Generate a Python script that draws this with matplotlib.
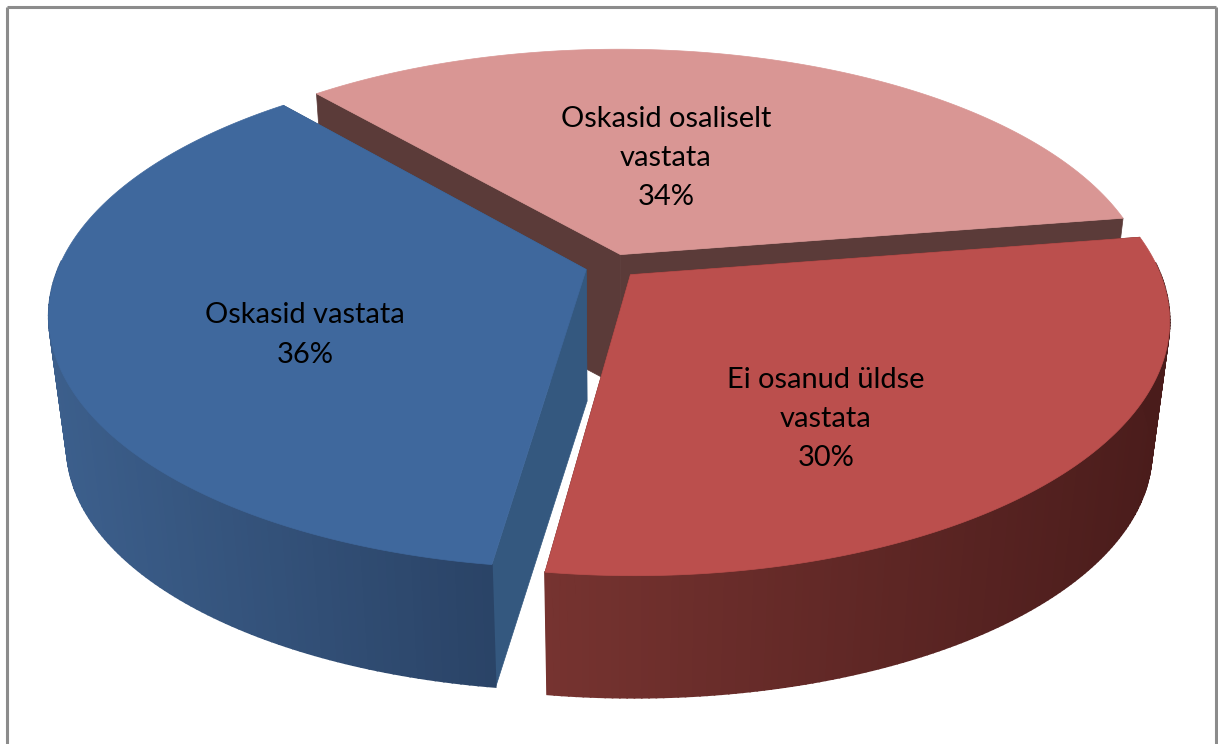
import numpy as np
import matplotlib
matplotlib.use("Agg")
import matplotlib.pyplot as plt
from matplotlib.colors import to_rgb

labels = ["Oskasid vastata", "Oskasid osaliselt\nvastata", "Ei osanud üldse\nvastata"]
values = [36.4, 33.9, 29.7]

top_colors = ["#3f689d", "#d99694", "#bb4f4d"]
cut_colors = ["#34587f", "#5b3b39", "#5b2422"]
wall_left = ["#3c5f8c", "#5b3b39", "#763330"]
wall_right = ["#2a4366", "#5b3b39", "#4a1c1b"]

start_angle = 262
explode = 0.05
center_x, center_y = 611.5, 266
scale_x, scale_y = 527, 245
persp = 0.175
bottom_scale, bottom_drop = 0.968, 132

label_pos = [(305, 335), (666, 158), (826, 419)]


def project(gx, gy, bottom=False):
    w = 1 + persp * gy
    sx = scale_x * gx / w
    sy = scale_y * gy / w
    if bottom:
        return center_x + bottom_scale * sx, center_y - bottom_scale * sy + bottom_drop
    return center_x + sx, center_y - sy


fig = plt.figure(figsize=(12.18, 7.44), dpi=100)
ax = fig.add_axes([0, 0, 1, 1])
ax.set_xlim(0, 1218)
ax.set_ylim(744, 0)
ax.axis("off")

# outer frame
ax.plot([7, 7], [744, 7], color="#8c8c8c", lw=2.2, solid_capstyle="butt")
ax.plot([7, 1216], [7, 7], color="#8c8c8c", lw=2.2, solid_capstyle="butt")
ax.plot([1216, 1216], [7, 744], color="#8c8c8c", lw=2.2, solid_capstyle="butt")

# slice angles, clockwise from the start
fracs = np.array(values) / sum(values)
ends = start_angle - np.cumsum(fracs) * 360
starts = ends + fracs * 360

# back slice first, then the two front ones
for i in [1, 0, 2]:
    a0, a1 = np.radians(ends[i]), np.radians(starts[i])
    mid = (a0 + a1) / 2
    ox, oy = explode * np.cos(mid), explode * np.sin(mid)
    t = np.linspace(a0, a1, 160)
    gx = ox + np.cos(t)
    gy = oy + np.sin(t)

    tx, ty = project(gx, gy)
    bx, by = project(gx, gy, bottom=True)
    ax_x, ax_y = project(ox, oy)
    abx, aby = project(ox, oy, bottom=True)

    # radial cut walls
    for j in [0, -1]:
        ax.fill([ax_x, tx[j], bx[j], abx], [ax_y, ty[j], by[j], aby],
                color=cut_colors[i], lw=0.5, zorder=2)

    # curved outer wall, shaded by screen x (far side is hidden anyway)
    c0, c1 = np.array(to_rgb(wall_left[i])), np.array(to_rgb(wall_right[i]))
    front = np.sin(t) < 0.05
    if front.any():
        xmin, xmax = tx[front].min(), tx[front].max()
        for j in np.argsort(tx[:-1]):
            if not front[j]:
                continue
            f = np.clip((tx[j] - xmin) / (xmax - xmin), 0, 1)
            col = c0 + (c1 - c0) * f
            ax.fill([tx[j], tx[j + 1], bx[j + 1], bx[j]],
                    [ty[j], ty[j + 1], by[j + 1], by[j]],
                    color=col, lw=1.2, zorder=2)

    # top face
    ax.fill(np.r_[ax_x, tx], np.r_[ax_y, ty], color=top_colors[i], lw=0.5, zorder=3)

for label, v, (x, y) in zip(labels, values, label_pos):
    ax.text(x, y, f"{label}\n{round(v)}%", ha="center", va="center", fontsize=20.9,
            family="Lato", color="black", linespacing=1.62, zorder=5)

fig.savefig("out.png", dpi=100)
